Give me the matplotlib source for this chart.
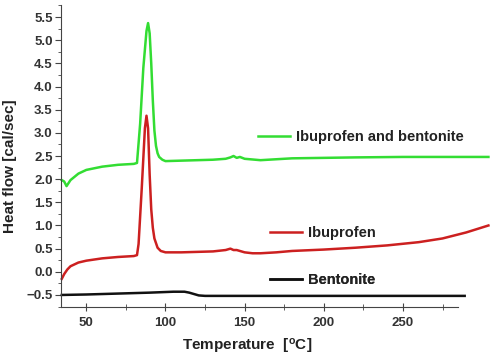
import numpy as np
import matplotlib
matplotlib.use('Agg')
import matplotlib.pyplot as plt
from matplotlib.ticker import MultipleLocator
from matplotlib.lines import Line2D

plt.rcParams['font.family'] = ['Liberation Sans', 'DejaVu Sans']
plt.rcParams['mathtext.default'] = 'regular'

# Ibuprofen and bentonite (green)
t_mix = [34.5, 36, 37.5, 40, 45, 50, 60, 70, 80, 82, 84, 86, 88, 89, 90, 91, 92, 93, 94,
         95, 96, 98, 100, 110, 120, 130, 138, 141, 143, 145, 147, 150, 160, 170, 180, 200,
         220, 250, 280, 304]
hf_mix = [1.98, 1.95, 1.85, 1.98, 2.12, 2.2, 2.27, 2.31, 2.33, 2.35, 3.2, 4.4, 5.2, 5.37,
          5.15, 4.5, 3.7, 3.05, 2.72, 2.56, 2.48, 2.42, 2.39, 2.4, 2.41, 2.42, 2.44, 2.47,
          2.5, 2.46, 2.48, 2.44, 2.41, 2.43, 2.45, 2.46, 2.47, 2.48, 2.48, 2.48]

# Ibuprofen (red)
t_ibu = [34.5, 36, 38, 40, 45, 50, 60, 70, 80, 82, 83, 85, 87, 88, 89, 90, 91, 92, 93,
         95, 97, 100, 110, 120, 130, 138, 141, 143, 145, 147, 150, 155, 160, 170, 180,
         200, 220, 240, 260, 275, 290, 304]
hf_ibu = [-0.15, -0.05, 0.05, 0.12, 0.2, 0.24, 0.29, 0.32, 0.34, 0.36, 0.6, 1.8, 3.1,
          3.37, 3.1, 2.1, 1.35, 0.95, 0.72, 0.52, 0.45, 0.42, 0.42, 0.43, 0.44, 0.47,
          0.5, 0.47, 0.47, 0.45, 0.42, 0.4, 0.4, 0.42, 0.45, 0.48, 0.52, 0.57, 0.64,
          0.72, 0.85, 1.0]

# Bentonite (black)
t_ben = [34.5, 50, 70, 90, 105, 112, 115, 118, 121, 125, 140, 200, 250, 289]
hf_ben = [-0.5, -0.49, -0.47, -0.45, -0.43, -0.43, -0.45, -0.48, -0.51, -0.52, -0.52,
          -0.52, -0.52, -0.52]

series = [
    (t_mix, hf_mix, '#33dd33', 'Ibuprofen and bentonite', (0.459, 0.563)),
    (t_ibu, hf_ibu, '#cc2020', 'Ibuprofen', (0.487, 0.245)),
    (t_ben, hf_ben, '#111111', 'Bentonite', (0.487, 0.089)),
]

fig = plt.figure(figsize=(4.9, 3.64), dpi=100)
ax = fig.add_axes([0.1245, 0.1566, 0.8755, 0.8296])

for t, hf, col, lab, pos in series:
    ax.plot(t, hf, color=col, lw=1.8, clip_on=False)

ax.set_xlim(34, 305)
ax.set_ylim(-0.76, 5.76)

for s in ['top', 'right']:
    ax.spines[s].set_visible(False)
ax.spines['bottom'].set_bounds(34, 285)
ax.spines['left'].set_color('#444444')
ax.spines['bottom'].set_color('#444444')

ax.yaxis.set_major_locator(MultipleLocator(0.5))
ax.yaxis.set_minor_locator(MultipleLocator(0.25))
ax.set_xticks([50, 100, 150, 200, 250])
ax.set_xticks([75, 125, 175, 225, 275], minor=True)

ax.tick_params(axis='x', which='major', direction='inout', length=6, color='#444444',
               labelsize=9.5, labelcolor='#333333', pad=4)
ax.tick_params(axis='x', which='minor', direction='inout', length=4, color='#444444')
ax.tick_params(axis='y', which='major', direction='out', length=4, color='#444444',
               labelsize=9.5, labelcolor='#333333', pad=2)
ax.tick_params(axis='y', which='minor', direction='out', length=2.5, color='#444444')
for lbl in ax.get_xticklabels() + ax.get_yticklabels():
    lbl.set_fontweight('bold')

ax.set_ylabel('Heat flow [cal/sec]', fontsize=11, fontweight='bold', color='#222222')
ax.yaxis.set_label_coords(-0.103, 0.467)
ax.set_xlabel(r'Temperature  [$^{o}$C]', fontsize=11, fontweight='bold', color='#222222')
ax.xaxis.set_label_coords(0.434, -0.1)

# line-label keys
for t, hf, col, lab, pos in series:
    h = Line2D([], [], color=col, lw=1.8)
    leg = ax.legend([h], [lab], loc='center left', bbox_to_anchor=pos, frameon=False,
                    borderpad=0, borderaxespad=0, handlelength=2.2, handletextpad=0.4,
                    prop={'size': 10.5, 'weight': 'bold'})
    for txt in leg.get_texts():
        txt.set_color('#222222')
    ax.add_artist(leg)

fig.savefig('out.png', dpi=100)
